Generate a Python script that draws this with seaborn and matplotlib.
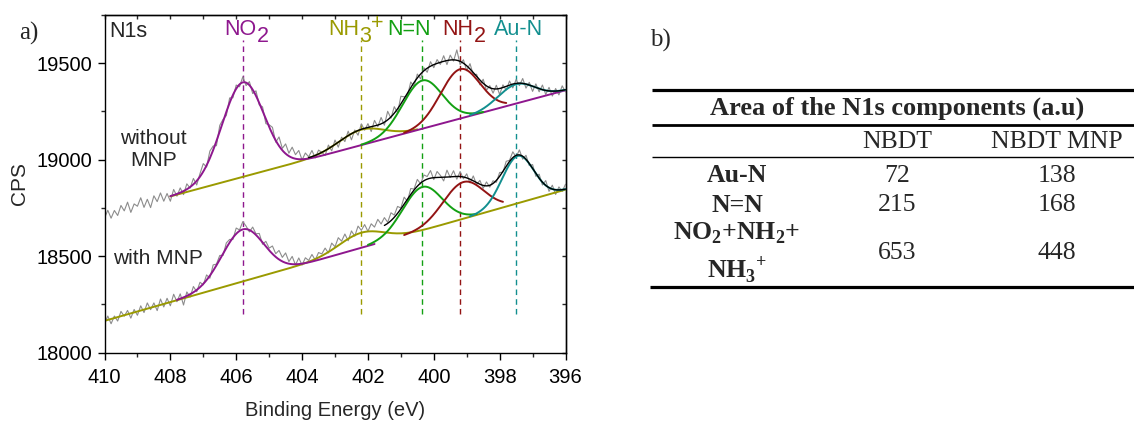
import numpy as np
import pandas as pd
import matplotlib
matplotlib.use("Agg")
import matplotlib.pyplot as plt
from matplotlib.ticker import MultipleLocator
import seaborn as sns

# raw N1s spectra (CPS), 410 -> 396 eV in 0.1 eV steps
energy = np.linspace(410, 396, 141)
raw_without = [
    18698, 18738, 18697, 18737, 18711, 18763, 18735, 18780, 18727, 18771,
    18759, 18803, 18753, 18795, 18752, 18813, 18783, 18828, 18785, 18825,
    18785, 18846, 18811, 18854, 18819, 18875, 18853, 18903, 18869, 18928,
    18980, 18962, 19045, 19071, 19073, 19178, 19209, 19229, 19320, 19321,
    19387, 19378, 19430, 19384, 19405, 19343, 19357, 19284, 19274, 19187,
    19181, 19168, 19091, 19118, 19059, 19082, 19034, 19065, 19026, 19048,
    18999, 19035, 19015, 19048, 19009, 19050, 19038, 19022, 19076, 19046,
    19102, 19065, 19117, 19094, 19148, 19103, 19154, 19127, 19186, 19153,
    19187, 19146, 19204, 19171, 19219, 19179, 19251, 19215, 19275, 19243,
    19329, 19326, 19330, 19403, 19379, 19444, 19419, 19477, 19453, 19508,
    19477, 19519, 19494, 19539, 19493, 19542, 19511, 19569, 19493, 19518,
    19461, 19498, 19439, 19443, 19388, 19417, 19360, 19384, 19345, 19386,
    19338, 19388, 19361, 19408, 19372, 19415, 19384, 19421, 19371, 19401,
    19354, 19393, 19352, 19387, 19338, 19375, 19330, 19369, 19336, 19383,
    19351,
]
raw_with = [
    18150, 18190, 18150, 18190, 18164, 18214, 18189, 18219, 18179, 18224,
    18194, 18243, 18208, 18258, 18223, 18258, 18218, 18278, 18237, 18282,
    18243, 18303, 18264, 18305, 18247, 18315, 18288, 18343, 18316, 18365,
    18352, 18403, 18386, 18455, 18459, 18504, 18504, 18569, 18587, 18587,
    18646, 18636, 18679, 18656, 18626, 18651, 18616, 18618, 18562, 18577,
    18542, 18553, 18513, 18530, 18494, 18517, 18472, 18499, 18455, 18491,
    18454, 18492, 18478, 18509, 18480, 18519, 18512, 18542, 18517, 18568,
    18549, 18596, 18578, 18615, 18580, 18631, 18604, 18656, 18634, 18664,
    18629, 18668, 18651, 18691, 18667, 18700, 18676, 18725, 18713, 18758,
    18750, 18806, 18785, 18851, 18848, 18898, 18875, 18921, 18913, 18944,
    18897, 18939, 18919, 18890, 18946, 18908, 18943, 18899, 18939, 18901,
    18927, 18880, 18916, 18871, 18893, 18852, 18885, 18858, 18891, 18883,
    18934, 18935, 18992, 18997, 19041, 19014, 19051, 19003, 19023, 18970,
    18975, 18914, 18925, 18869, 18892, 18836, 18868, 18820, 18859, 18836,
    18873,
]

# fitted components (gaussian peaks on a linear background)
# peak labels as pieces: (text, vertical shift in points) -> full-size sub/superscripts
peak_labels = [
    [("NO", 0), ("2", -5)],
    [("NH", 0), ("3", -5), ("+", 4.5)],
    [("N=N", 0)],
    [("NH", 0), ("2", -5)],
    [("Au-N", 0)],
]
peak_colors = ["#8E178E", "#9A9A00", "#13A013", "#931414", "#128F8F"]
label_x = [405.68, 402.36, 400.76, 399.08, 397.43]

centers_without = [405.8, 402.2, 400.35, 399.2, 397.5]
heights_without = [490, 80, 250, 256, 100]
fwhm_without = [1.5, 1.6, 1.41, 1.41, 1.3]
spans_without = [(408, 396), (408, 400.5), (402.2, 398.5), (400.9, 397.8), (398.9, 396)]
bg_without = [(408, 18810), (396, 19360)]
env_span_without = (403.8, 396)

centers_with = [405.8, 402.2, 400.35, 399.1, 397.45]
heights_with = [270, 78, 225, 190, 245]
fwhm_with = [1.5, 1.6, 1.41, 1.46, 1.13]
spans_with = [(407.8, 401.8), (410, 396), (402.0, 398.7), (400.9, 397.9), (398.9, 396)]
bg_with = [(410, 18165), (396, 18845)]
env_span_with = (401.5, 396)

# table b)
table_title = "Area of the N1s components (a.u)"
table_cols = ["NBDT", "NBDT MNP"]
table_rows = ["Au-N", "N=N", "NO$_\\mathregular{2}$+NH$_\\mathregular{2}$+\nNH$_\\mathregular{3}$$^\\mathregular{+}$"]
area_nbdt = [72, 215, 653]
area_nbdt_mnp = [138, 168, 448]

sns.set_theme(style="ticks")
plt.rcParams["font.family"] = ["Liberation Sans", "DejaVu Sans"]
plt.rcParams["axes.linewidth"] = 1.0

fig = plt.figure(figsize=(11.34, 4.21), dpi=100)
ax = fig.add_axes([104.5 / 1134, (421 - 352.7) / 421, (565.5 - 104.5) / 1134, (352.7 - 15) / 421])


def background(x, bg):
    (x0, y0), (x1, y1) = bg
    return y0 + (x - x0) * (y1 - y0) / (x1 - x0)


def gauss(x, c, h, fw):
    s = fw / 2.3548
    return h * np.exp(-0.5 * ((x - c) / s) ** 2)


def draw_fit(centers, heights, fwhm, spans, bg, env_span):
    zorders = [3, 2, 4, 4, 4]
    for i in range(len(centers)):
        x = np.linspace(spans[i][0], spans[i][1], 400)
        y = background(x, bg) + gauss(x, centers[i], heights[i], fwhm[i])
        sns.lineplot(x=x, y=y, ax=ax, color=peak_colors[i], linewidth=1.4,
                     zorder=zorders[i], sort=False, estimator=None)
    x = np.linspace(env_span[0], env_span[1], 400)
    y = background(x, bg)
    for i in range(len(centers)):
        y = y + gauss(x, centers[i], heights[i], fwhm[i])
    sns.lineplot(x=x, y=y, ax=ax, color="black", linewidth=1.0, zorder=5,
                 sort=False, estimator=None)


df = pd.DataFrame({"energy": energy, "without": raw_without, "with": raw_with})
sns.lineplot(data=df, x="energy", y="without", ax=ax, color="#8c8c8c", linewidth=0.8,
             zorder=1, sort=False, estimator=None)
sns.lineplot(data=df, x="energy", y="with", ax=ax, color="#8c8c8c", linewidth=0.8,
             zorder=1, sort=False, estimator=None)

draw_fit(centers_without, heights_without, fwhm_without, spans_without, bg_without, env_span_without)
draw_fit(centers_with, heights_with, fwhm_with, spans_with, bg_with, env_span_with)

ax.set_xlim(410, 396)
ax.set_ylim(18000, 19750)

renderer = fig.canvas.get_renderer()
for i, c in enumerate(centers_without):
    ax.vlines(c, 18200, 19620, colors=peak_colors[i], linestyles=(0, (4, 3)), linewidth=1.0, zorder=0)
    parts = []
    for txt, dy in peak_labels[i]:
        a = ax.annotate(txt, xy=(label_x[i], 19647), xytext=(0, dy), textcoords="offset points",
                        color=peak_colors[i], fontsize=15.5, ha="left", va="baseline")
        w = a.get_window_extent(renderer).width * 72 / fig.dpi
        parts.append((a, w, dy))
    total = sum(p[1] for p in parts)
    off = -total / 2
    for a, w, dy in parts:
        a.xyann = (off, dy)
        off += w

ax.text(409.85, 19665, "N1s", fontsize=15.5, ha="left", va="center")
ax.text(408.51, 19053, "without\nMNP", fontsize=15, ha="center", va="center", linespacing=1.15)
ax.text(409.74, 18486, "with MNP", fontsize=15, ha="left", va="center")

ax.set_xticks([410, 408, 406, 404, 402, 400, 398, 396])
ax.set_yticks([18000, 18500, 19000, 19500])
ax.xaxis.set_minor_locator(MultipleLocator(1))
ax.yaxis.set_minor_locator(MultipleLocator(250))
ax.tick_params(which="major", direction="out", length=5, width=1, labelsize=14.5, colors="black", pad=4)
ax.tick_params(axis="x", which="major", pad=6)
ax.tick_params(which="minor", direction="out", length=3, width=1)
for sp in ax.spines.values():
    sp.set_visible(True)
    sp.set_color("black")
ax.set_xlabel("Binding Energy (eV)", fontsize=14.5, labelpad=10)
ax.set_ylabel("CPS", fontsize=15, labelpad=5)

top = ax.secondary_xaxis("top")
top.set_xticks([410, 408, 406, 404, 402, 400, 398, 396], labels=[])
top.xaxis.set_minor_locator(MultipleLocator(1))
top.tick_params(which="both", direction="in", length=3, width=1)
right = ax.secondary_yaxis("right")
right.set_yticks([18000, 18500, 19000, 19500], labels=[])
right.yaxis.set_minor_locator(MultipleLocator(250))
right.tick_params(which="both", direction="in", length=3, width=1)

fig.text(29 / 1134, 1 - 33 / 421, "a)", family="Liberation Serif", fontsize=18, ha="center", va="center")

# table panel, laid out in pixel units
tab = fig.add_axes([620 / 1134, 0, 514 / 1134, 1])
tab.set_xlim(620, 1134)
tab.set_ylim(421, 0)
tab.axis("off")
serif = "Liberation Serif"
tab.text(660, 40, "b)", family=serif, fontsize=18, ha="center", va="center")
tab.hlines(90, 652, 1134, colors="black", linewidth=2.3)
tab.hlines(125, 652, 1134, colors="black", linewidth=2.0)
tab.hlines(157, 652, 1134, colors="black", linewidth=1.0)
tab.hlines(287, 650, 1134, colors="black", linewidth=2.3)
tab.text(897, 108, table_title, family=serif, fontsize=19, weight="bold", ha="center", va="center")
col_x = [897, 1057]
for j, name in enumerate(table_cols):
    tab.text(col_x[j], 142, name, family=serif, fontsize=18.5, ha="center", va="center")
row_y = [176, 205, 253]
for i, name in enumerate(table_rows):
    tab.text(737, row_y[i], name, family=serif, fontsize=18.5, weight="bold", ha="center",
             va="center", linespacing=1.35)
    tab.text(col_x[0], row_y[i], str(area_nbdt[i]), family=serif, fontsize=18.5, ha="center", va="center")
    tab.text(col_x[1], row_y[i], str(area_nbdt_mnp[i]), family=serif, fontsize=18.5, ha="center", va="center")

fig.savefig("out.png", dpi=100)
